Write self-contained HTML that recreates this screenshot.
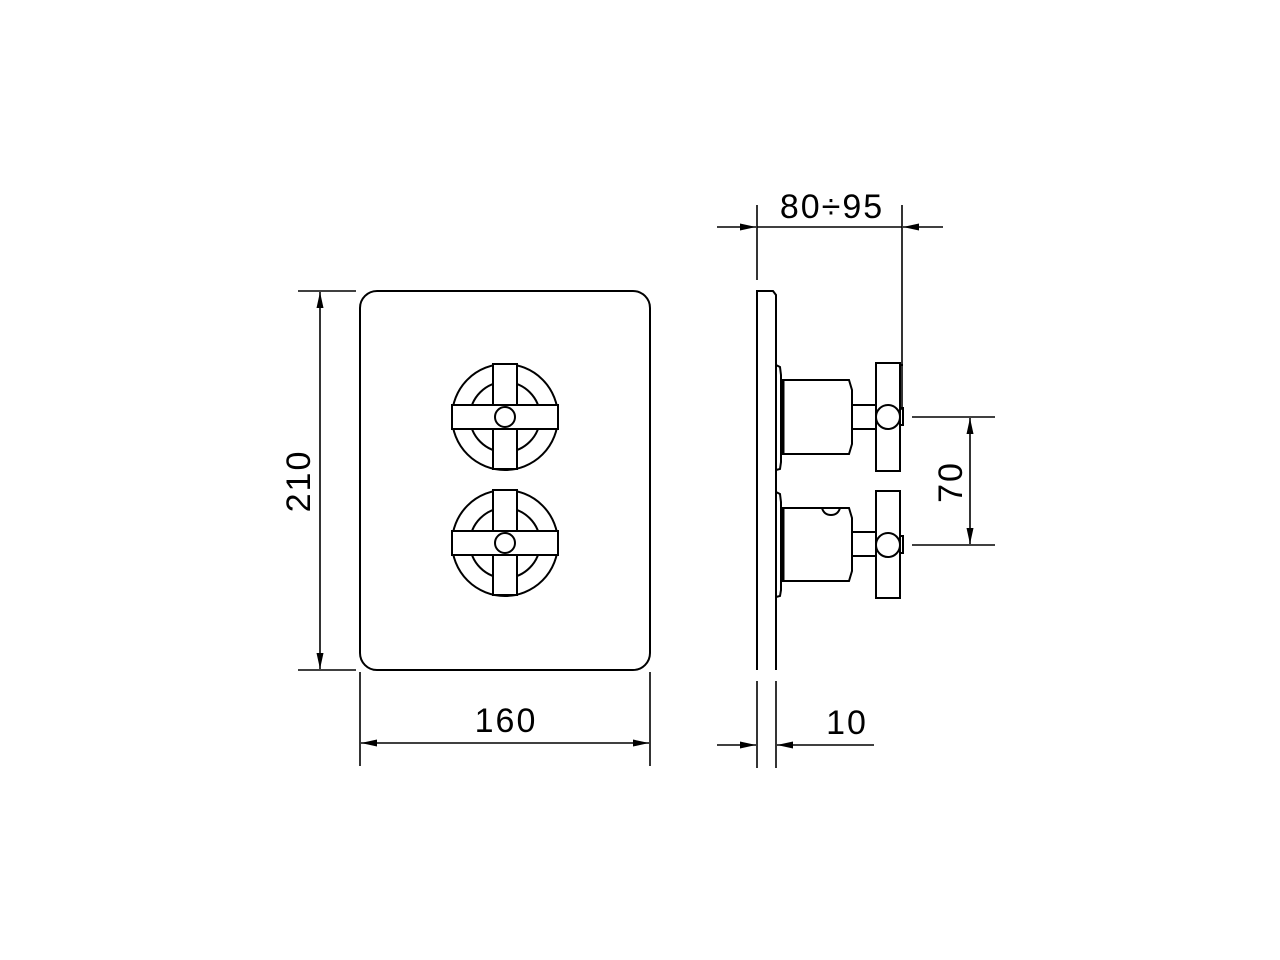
<!DOCTYPE html>
<html><head><style>html,body{margin:0;padding:0;background:#fff}svg{display:block}</style></head><body>
<svg width="1280" height="960" viewBox="0 0 1280 960" xmlns="http://www.w3.org/2000/svg">
<defs>
<marker id="a" viewBox="0 0 16 7" refX="16" refY="3.5" markerWidth="16" markerHeight="7" orient="auto" markerUnits="userSpaceOnUse"><path d="M0,0 L16,3.5 L0,7 Z" fill="#000"/></marker>
</defs>
<g fill="none" stroke="#000" stroke-width="2">
<rect x="360" y="291" width="290" height="379" rx="17" ry="17"/>
<g id="k">
<circle cx="505" cy="417" r="53"/>
<circle cx="505" cy="417" r="35"/>
<rect x="493" y="364" width="24" height="105" fill="#fff"/>
<rect x="452" y="405" width="106" height="24" fill="#fff"/>
<rect x="494" y="406" width="22" height="22" stroke="none" fill="#fff"/>
<circle cx="505" cy="417" r="10" fill="#fff"/>
</g>
<use href="#k" transform="translate(0,126)"/>
<path d="M757,670 L757,291 L773,291 L776,295 L776,670"/>
<path d="M776,365 L780,367 L781,375 L781,462 L780,469 L776,470"/>
<path d="M776,492 L780,494 L781,502 L781,590 L780,596 L776,597"/>
<path d="M782,380 L849,380 L852,390 L852,444 L849,454 L782,454 Z"/>
<line x1="783" y1="380" x2="783" y2="454" stroke-width="3"/>
<rect x="852" y="405" width="24" height="24"/>
<rect x="876" y="363" width="24" height="108"/>
<circle cx="888" cy="417" r="12" fill="#fff"/>
<line x1="900" y1="365" x2="903" y2="365"/>
<path d="M900,408 L903,408 L903,425 L900,425"/>
<path d="M782,508 L849,508 L852,518 L852,571 L849,581 L782,581 Z"/>
<line x1="783" y1="508" x2="783" y2="581" stroke-width="3"/>
<path d="M822,508 Q824,515 831,515 Q838,515 840,508"/>
<rect x="852" y="532" width="24" height="24"/>
<rect x="876" y="491" width="24" height="107"/>
<circle cx="888" cy="545" r="12" fill="#fff"/>
<path d="M900,536 L903,536 L903,553 L900,553"/>
</g>
<g stroke="#000" stroke-width="1.6" fill="none">
<line x1="298" y1="291" x2="356" y2="291"/>
<line x1="298" y1="670" x2="356" y2="670"/>
<line x1="320" y1="480" x2="320" y2="292" marker-end="url(#a)"/>
<line x1="320" y1="480" x2="320" y2="669" marker-end="url(#a)"/>
<line x1="360" y1="672" x2="360" y2="766"/>
<line x1="650" y1="672" x2="650" y2="766"/>
<line x1="505" y1="743" x2="361" y2="743" marker-end="url(#a)"/>
<line x1="505" y1="743" x2="649" y2="743" marker-end="url(#a)"/>
<line x1="757" y1="205" x2="757" y2="280"/>
<line x1="902" y1="205" x2="902" y2="410"/>
<line x1="717" y1="227" x2="756" y2="227" marker-end="url(#a)"/>
<line x1="943" y1="227" x2="903" y2="227" marker-end="url(#a)"/>
<line x1="757" y1="227" x2="902" y2="227"/>
<line x1="912" y1="417" x2="995" y2="417"/>
<line x1="912" y1="545" x2="995" y2="545"/>
<line x1="970" y1="481" x2="970" y2="418" marker-end="url(#a)"/>
<line x1="970" y1="481" x2="970" y2="544" marker-end="url(#a)"/>
<line x1="757" y1="681" x2="757" y2="768"/>
<line x1="776" y1="681" x2="776" y2="768"/>
<line x1="717" y1="745" x2="756" y2="745" marker-end="url(#a)"/>
<line x1="874" y1="745" x2="777" y2="745" marker-end="url(#a)"/>
</g>
<g font-family="Liberation Sans, sans-serif" font-size="34" fill="#000" text-anchor="middle" letter-spacing="2">
<text x="832" y="218">80÷95</text>
<text x="506" y="732">160</text>
<text x="847" y="734">10</text>
<text transform="translate(310,481) rotate(-90)">210</text>
<text transform="translate(962,482) rotate(-90)">70</text>
</g>
</svg>
</body></html>
